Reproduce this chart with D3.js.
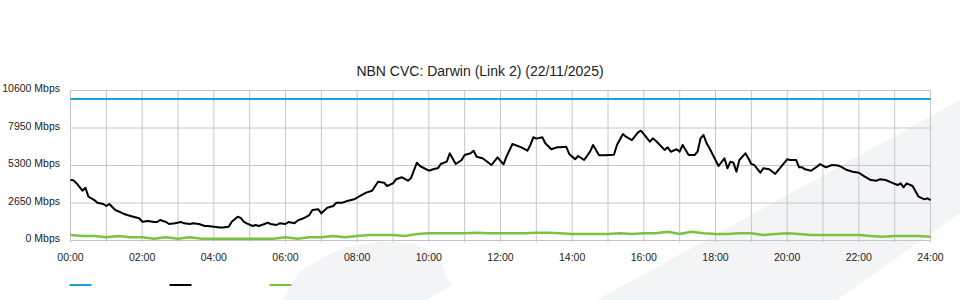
<!DOCTYPE html>
<html>
<head>
<meta charset="utf-8">
<script src="https://cdn.jsdelivr.net/npm/d3@7"></script>
<style>
  html, body { margin: 0; padding: 0; background: #fff; }
  svg { display: block; font-family: "Liberation Sans", Arial, sans-serif; }
</style>
</head>
<body>
<svg id="chart" width="960" height="300"></svg>
<script>
// ---------- data ----------
const title = "NBN CVC: Darwin (Link 2) (22/11/2025)";
const yTickValues = [0, 2650, 5300, 7950, 10600];
const xTickLabels = ["00:00","02:00","04:00","06:00","08:00","10:00","12:00","14:00","16:00","18:00","20:00","22:00","24:00"];
const gridHours = ["00:00","01:00","02:00","03:00","04:00","05:00","06:00","07:00","08:00","09:00","10:00","11:00","12:00",
  "13:00","14:00","15:00","16:00","17:00","18:00","19:00","20:00","21:00","22:00","23:00","24:00"];

const capacityTimes = ["00:00", "24:00"];
const capacityValues = [10000, 10000];

const trafficTimes = ["00:00","00:05","00:10","00:20","00:25","00:30","00:40","00:45","00:55","01:00","01:05","01:15","01:25","01:30","01:35","01:45","01:55",
  "02:00","02:10","02:20","02:25","02:30","02:40","02:45","02:55","03:05","03:10","03:20","03:25","03:35","03:45","03:50",
  "04:00","04:10","04:15","04:25","04:30","04:40","04:45","04:50","04:55","05:05","05:10","05:15","05:25","05:30","05:35","05:45","05:50",
  "06:00","06:05","06:15","06:20","06:30","06:40","06:45","06:55","07:00","07:10","07:20","07:25","07:35","07:45","07:55",
  "08:05","08:15","08:25","08:35","08:45","08:50","09:00","09:05","09:15","09:25","09:30","09:40","09:45",
  "10:00","10:10","10:15","10:20","10:30","10:35","10:45","10:55","11:00","11:10","11:15","11:20","11:30","11:45","11:55",
  "12:05","12:10","12:20","12:35","12:45","12:50","12:55","13:00","13:10","13:15","13:25","13:35","13:40","13:50","13:55",
  "14:05","14:10","14:20","14:30","14:35","14:45","14:55","15:10","15:15","15:25","15:30","15:40","15:50","15:55",
  "16:00","16:10","16:15","16:20","16:35","16:40","16:45","16:55","17:00","17:05","17:15","17:25","17:30","17:35","17:40","17:45","17:50",
  "18:05","18:15","18:20","18:25","18:30","18:35","18:40","18:50","18:55","19:00","19:05","19:15","19:20","19:30","19:40","19:50",
  "20:00","20:05","20:15","20:20","20:25","20:30","20:40","20:50","20:55","21:05","21:15","21:25","21:30","21:40","21:50",
  "22:00","22:10","22:20","22:30","22:35","22:45","22:55","23:05","23:10","23:15","23:20","23:30","23:40","23:50","23:55","24:00"];
const trafficValues = [4280,4250,4050,3520,3730,3100,2860,2670,2580,2440,2580,2155,1965,1870,1800,1680,1570,
  1330,1380,1310,1310,1450,1310,1165,1215,1310,1215,1165,1215,1165,1025,1025,
  975,920,920,975,1330,1680,1600,1330,1215,1025,1095,1025,1165,1260,1165,1095,1215,
  1165,1310,1215,1400,1570,1800,2155,2200,1920,2320,2440,2670,2670,2815,2910,
  3145,3380,3520,4155,4085,3850,4040,4325,4465,4225,4395,5500,5265,
  4930,5075,5100,5405,5570,6160,5405,5690,6040,6160,6345,5920,5810,5335,5880,
  5385,5920,6820,6585,6345,6750,7295,7200,7295,6870,6445,6585,6585,6630,6115,
  5740,5970,5690,6275,6750,6020,6020,6065,6750,7525,7335,7100,7620,7760,
  7525,6980,7220,7050,6395,6585,6275,6445,6275,6750,6040,6040,6275,7220,7455,6870,6515,
  5265,5810,5100,5570,5500,4860,5690,6160,5810,5405,5335,4790,5100,5030,4700,5220,
  5740,5690,5690,5170,5170,5030,4930,5220,5405,5170,5335,5300,5220,4980,4860,
  4790,4510,4275,4225,4325,4275,4085,3920,4040,3760,4040,3850,3095,2910,2980,2860];

const uploadTimes = ["00:00","00:20","00:40","01:00","01:20","01:40","02:00","02:20","02:40","03:00","03:20","03:40",
  "04:00","04:20","04:40","05:00","05:20","05:40","06:00","06:20","06:40","07:00","07:20","07:40",
  "08:00","08:20","08:40","09:00","09:20","09:40","10:00","10:20","10:40","11:00","11:20","11:40",
  "12:00","12:20","12:40","13:00","13:20","13:40","14:00","14:20","14:40","15:00","15:20","15:40",
  "16:00","16:20","16:40","17:00","17:20","17:40","18:00","18:20","18:40","19:00","19:20","19:40",
  "20:00","20:20","20:40","21:00","21:20","21:40","22:00","22:20","22:40","23:00","23:20","23:40","24:00"];
const uploadValues = [390,320,320,225,320,225,225,130,225,130,225,130,
  130,130,130,130,130,130,225,130,225,225,320,225,
  320,390,390,390,320,460,505,505,505,505,550,505,
  505,505,505,550,550,505,460,460,460,460,505,460,
  505,505,620,460,620,505,460,460,505,505,390,460,
  505,460,390,390,390,390,390,320,270,320,320,320,270];

// ---------- helpers ----------
const toMin = s => { const p = s.split(":"); return (+p[0]) * 60 + (+p[1]); };
const zip = (t, v) => t.map((d, i) => ({ t: toMin(d), v: v[i] }));

const svg = d3.select("#chart");
const W = 960, H = 300;
const x = d3.scaleLinear().domain([0, 1440]).range([70.5, 930.5]);
const y = d3.scaleLinear().domain([0, 10600]).range([240.5, 90.5]);

// background watermark
const wm = svg.append("g").attr("fill", "#f3f4f6");
wm.append("path").attr("d", "M597,300 L960,100 L960,213 L837,300 Z");
wm.append("path")
  .datum([[282,300],[300,271],[320,259],[345,247],[380,241.5],[413,243],[438,254],[446,275],[452,285],[427,300]])
  .attr("d", d3.line().curve(d3.curveLinearClosed));

// grid
const grid = svg.append("g").attr("stroke", "#c6c6c6").attr("stroke-width", 1).attr("fill", "none");
grid.selectAll("line.v").data(gridHours).join("line")
  .attr("x1", d => x(toMin(d))).attr("x2", d => x(toMin(d)))
  .attr("y1", y(10600)).attr("y2", y(0) + 2);
grid.selectAll("line.h").data(yTickValues).join("line")
  .attr("x1", x(0)).attr("x2", x(1440))
  .attr("y1", d => y(d)).attr("y2", d => y(d));

// axes labels
const lab = svg.append("g").attr("fill", "#222").attr("font-size", "10.5px");
lab.selectAll("text.y").data(yTickValues).join("text")
  .attr("x", 60).attr("y", d => y(d) + 1.5)
  .attr("text-anchor", "end")
  .text(d => d + " Mbps");
lab.selectAll("text.x").data(xTickLabels).join("text")
  .attr("x", d => x(toMin(d))).attr("y", 260.5)
  .attr("text-anchor", "middle")
  .text(d => d);

// title
svg.append("text").attr("x", 480).attr("y", 76)
  .attr("text-anchor", "middle").attr("font-size", "14px").attr("fill", "#222")
  .text(title);

// series
const line = d3.line().x(d => x(d.t)).y(d => y(d.v));
svg.append("path").datum(zip(capacityTimes, capacityValues))
  .attr("d", line).attr("fill", "none").attr("stroke", "#1ba1e2").attr("stroke-width", 2);
svg.append("path").datum(zip(uploadTimes, uploadValues))
  .attr("d", line).attr("fill", "none").attr("stroke", "#7cc142").attr("stroke-width", 2.5)
  .attr("stroke-linejoin", "round");
svg.append("path").datum(zip(trafficTimes, trafficValues))
  .attr("d", line).attr("fill", "none").attr("stroke", "#000").attr("stroke-width", 2)
  .attr("stroke-linejoin", "round");

// legend (swatches only)
const legendColors = ["#1ba1e2", "#000", "#7cc142"];
svg.append("g").selectAll("line").data(legendColors).join("line")
  .attr("x1", (d, i) => 69.5 + i * 100).attr("x2", (d, i) => 91.5 + i * 100)
  .attr("y1", 285).attr("y2", 285)
  .attr("stroke", d => d).attr("stroke-width", 2);
</script>
</body>
</html>
